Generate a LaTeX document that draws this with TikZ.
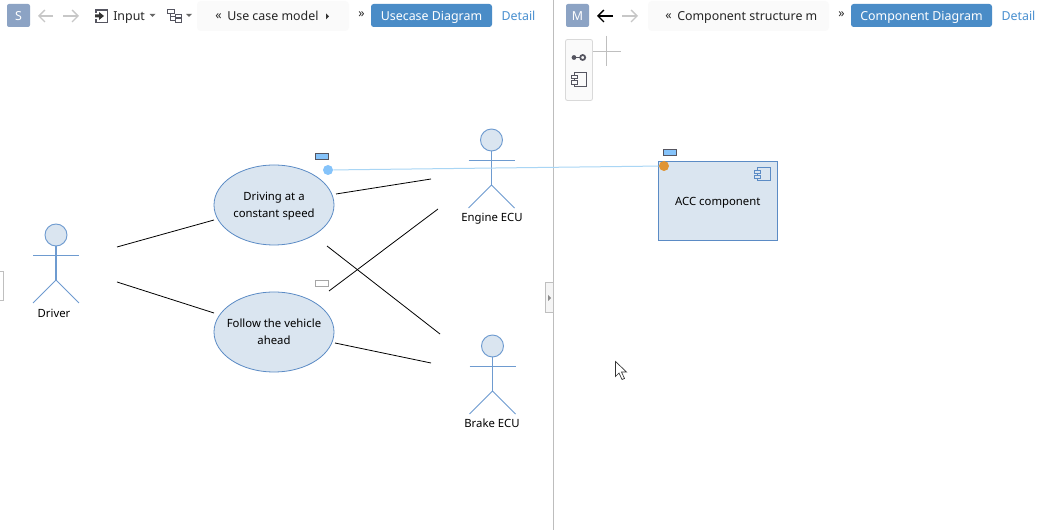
\documentclass[tikz,border=0pt]{standalone}
\usepackage{fontspec}
\setmainfont{Noto Sans}
\usetikzlibrary{arrows.meta,shapes.geometric}
\definecolor{fillblue}{HTML}{DAE5F0}
\definecolor{edgeblue}{HTML}{5B8BC5}
\definecolor{actorblue}{HTML}{6E9BD0}
\definecolor{btnblue}{HTML}{4A8CC7}
\definecolor{badge}{HTML}{8CA3C4}
\definecolor{linkblue}{HTML}{4A90D0}
\definecolor{lightline}{HTML}{A9D6F5}
\definecolor{dotblue}{HTML}{85C3FA}
\definecolor{orangedot}{HTML}{E09433}
\definecolor{crumb}{HTML}{FAFAFA}
\definecolor{divider}{HTML}{BDBDBD}
\definecolor{icondark}{HTML}{555560}
\tikzset{
  lbl/.style={font=\fontsize{8.5}{10}\selectfont,text=black,inner sep=0pt,align=center},
  tbl/.style={font=\fontsize{9.3}{11}\selectfont,text=black!85,inner sep=0pt},
  usecase/.style={ellipse,draw=edgeblue,fill=fillblue,line width=0.6pt,minimum width=90pt,minimum height=60pt,inner sep=0pt,align=center,font=\fontsize{8.5}{12.75}\selectfont,text=black},
  actorline/.style={draw=actorblue,line width=0.7pt},
  assoc/.style={draw=black,line width=0.6pt},
  flag/.style={draw=icondark,fill=dotblue,line width=0.6pt},
  badgebox/.style={fill=badge,rounded corners=1.5pt},
  btn/.style={fill=btnblue,rounded corners=2pt},
  crumbbox/.style={fill=crumb,rounded corners=3pt},
  navon/.style={draw=black,line width=1pt,-{Straight Barb[length=4.5pt,width=9pt]}},
  navoff/.style={draw=black!22,line width=1pt,-{Straight Barb[length=4.5pt,width=9pt]}},
  icon/.style={draw=icondark,line width=0.6pt},
  compbox/.style={draw=edgeblue,fill=fillblue,line width=0.75pt,outer sep=0pt,minimum width=89.25pt,minimum height=59pt,inner sep=0pt,font=\fontsize{8.5}{10}\selectfont,text=black}
}
\newcommand{\actor}[3]{%
  \draw[actorline,line width=1.2pt] (#1,#2+11) -- (#1,#2+45);
  \draw[actorline] (#1-23,#2+20.5) -- (#1+23,#2+20.5);
  \draw[actorline] (#1-23,#2+68) -- (#1,#2+45) -- (#1+23,#2+68);
  \node[draw=actorblue,fill=fillblue,circle,line width=0.7pt,minimum size=16.5pt,inner sep=0pt] (#3) at (#1,#2) {};
}
\newcommand{\zw}[1]{\makebox[0pt][c]{#1}}
\begin{document}
\begin{tikzpicture}[x=0.75pt,y=-0.75pt]
\useasboundingbox (0,0) rectangle (1050,530);
\fill[white] (0,0) rectangle (1050,530);

% divider and handles
\draw[divider,line width=0.75pt] (553.5,0) -- (553.5,530);
\draw[draw=black!25,fill=black!4,line width=0.5pt] (545.5,282.5) rectangle (553,312.5);
\fill[black!45] (548,295) -- (551,298) -- (548,301) -- cycle;
\draw[draw=black!25,fill=white,line width=0.5pt] (-2,271.5) rectangle (3,300.5);

% left toolbar
\fill[badgebox] (7,4) rectangle (30,27);
\node[font=\fontsize{9.3}{11}\selectfont,text=white,inner sep=0pt] (sbadge) at (18.5,16) {S};
\coordinate (la1) at (53,16); \coordinate (la0) at (38,16);
\coordinate (ra0) at (63,16); \coordinate (ra1) at (79,16);
\draw[navoff] (la1) -- (la0);
\draw[navoff] (ra0) -- (ra1);
\draw[icon,line width=0.8pt] (99,10) -- (107.5,10) -- (107.5,22.5) -- (99,22.5);
\draw[icon,line width=0.8pt] (96,13) -- (96,10) -- (99,10) (96,19.5) -- (96,22.5) -- (99,22.5);
\fill[black!80] (95,14.5) -- (99,14.5) -- (99,12) -- (104,16) -- (99,20) -- (99,17.5) -- (95,17.5) -- cycle;
\node[tbl,anchor=base west] (inputlbl) at (113,21) {Input};
\fill[black!60] (149.5,14) -- (155.5,14) -- (152.5,17) -- cycle;
\draw[icon] (167.5,9.5) rectangle (174,13);
\draw[icon] (175,14.5) rectangle (181,17.5);
\draw[icon] (175,18.5) rectangle (181,22);
\draw[icon] (170,13) -- (170,20) -- (175,20) (170,16) -- (175,16);
\fill[black!60] (186,14) -- (192,14) -- (189,17) -- cycle;
\fill[crumbbox] (197,1) rectangle (349,31);
\node[tbl,anchor=west] (crumbL) at (215,16.5) {«};
\node[tbl,anchor=base west] (crumbLtxt) at (227,21) {Use case model};
\fill[black!80] (326,13.5) -- (329,16.5) -- (326,19.5) -- cycle;
\node[tbl] (nextL) at (361.5,14.5) {»};
\fill[btn] (371,4) rectangle (492,27);
\node[tbl,text=white,anchor=base] (btnL) at (431.5,21) {Usecase Diagram};
\node[tbl,text=linkblue,anchor=base] (detailL) at (518.5,21) {Detail};

% right toolbar
\fill[badgebox] (566,4) rectangle (589,27);
\node[font=\fontsize{9.3}{11}\selectfont,text=white,inner sep=0pt] (mbadge) at (577.5,16) {M};
\coordinate (lb1) at (613,16); \coordinate (lb0) at (597,16);
\coordinate (rb0) at (622,16); \coordinate (rb1) at (638,16);
\draw[navon] (lb1) -- (lb0);
\draw[navoff] (rb0) -- (rb1);
\fill[crumbbox] (648,1) rectangle (829,31);
\node[tbl,anchor=west] (crumbR) at (665,16.5) {«};
\node[tbl,anchor=base west] (crumbRtxt) at (677,21) {Component structure m};
\node[tbl] (nextR) at (841.5,14.5) {»};
\fill[btn] (851,4) rectangle (992,27);
\node[tbl,text=white,anchor=base] (btnR) at (921.5,21) {Component Diagram};
\node[tbl,text=linkblue,anchor=base] (detailR) at (1018.5,21) {Detail};

% tool palette
\draw[draw=black!15,fill=black!2,rounded corners=1.5pt,line width=0.6pt] (565.5,39.5) rectangle (592.5,100.5);
\fill[icondark] (574,57.5) circle (2.4);
\draw[icondark,line width=0.8pt] (576,57.5) -- (580,57.5);
\draw[icondark,line width=1.3pt] (582.7,57.5) circle (2.5);
\draw[icon] (574.5,72.5) rectangle (586.5,86.5);
\draw[icon,fill=black!2] (571.5,75.3) rectangle (577.5,78.7);
\draw[icon,fill=black!2] (571.5,80.3) rectangle (577.5,84);
\draw[black!25,line width=0.5pt] (593,51.5) -- (621,51.5) (606.5,36) -- (606.5,66);

% actors
\actor{56}{235}{driverhead}
\actor{491.5}{140}{enginehead}
\actor{492.5}{346}{brakehead}
\node[lbl,anchor=base] (driver) at (54,317.5) {Driver};
\node[lbl,anchor=base] (engine) at (492,222) {Engine ECU};
\node[lbl,anchor=base] (brake) at (492,428) {Brake ECU};

% use cases
\node[usecase] (uc1) at (274,205) {\rule{0pt}{8.5pt}\zw{Driving at a}\\\zw{constant speed}};
\node[usecase] (uc2) at (274,332) {\zw{Follow the vehicle}\\\zw{ahead}};
\draw[draw=icondark,fill=dotblue,line width=0.6pt] (315.5,153.5) rectangle (328.5,159);
\draw[draw=black!35,fill=white,line width=0.5pt] (315.5,280.5) rectangle (328.5,286);

% component
\node[compbox,anchor=north west] (comp) at (658.3,161.7) {\rule{0pt}{9pt}ACC component};
\draw[draw=edgeblue,line width=0.75pt] (757.5,167.5) rectangle (770.5,181);
\draw[draw=edgeblue,fill=fillblue,line width=0.75pt] (754.5,170.5) rectangle (760.5,174);
\draw[draw=edgeblue,fill=fillblue,line width=0.75pt] (754.5,175.5) rectangle (760.5,179);
\draw[flag] (663.5,149.5) rectangle (676.5,155);

% association ends
\coordinate (a1s) at (117,247); \coordinate (a1e) at (214,220);
\coordinate (a2s) at (117,282); \coordinate (a2e) at (214,313);
\coordinate (a3s) at (336,194); \coordinate (a3e) at (431,179);
\coordinate (a4s) at (327,246); \coordinate (a4e) at (440,334);
\coordinate (a5s) at (329,291); \coordinate (a5e) at (438,209);
\coordinate (a6s) at (335,343); \coordinate (a6e) at (431,363);
\draw[assoc] (a1s) -- (a1e);
\draw[assoc] (a2s) -- (a2e);
\draw[assoc] (a3s) -- (a3e);
\draw[assoc] (a4s) -- (a4e);
\draw[assoc] (a5s) -- (a5e);
\draw[assoc] (a6s) -- (a6e);

% trace link
\node[circle,fill=dotblue,minimum size=7.5pt,inner sep=0pt] (tl) at (328,170) {};
\node[circle,fill=orangedot,minimum size=7.5pt,inner sep=0pt] (tr) at (664,166) {};
\draw[lightline,line width=0.75pt] (tl) -- (tr);

% cursor
\draw[draw=black!80,fill=white,line width=0.5pt,line join=miter] (615.5,361.5) -- (615.5,376.5) -- (619,373) -- (622,379.5) -- (624.5,378.5) -- (621.5,372) -- (626.5,372) -- cycle;
\end{tikzpicture}
\end{document}
